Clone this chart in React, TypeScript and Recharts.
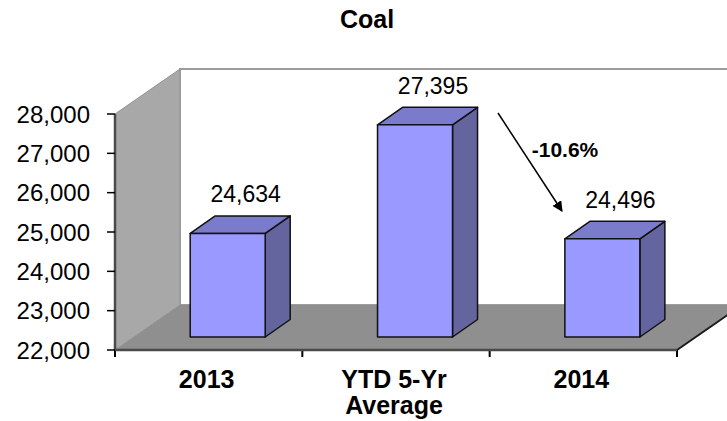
import { Bar, BarChart, ReferenceArea, XAxis, YAxis } from 'recharts';

const categories = ['2013', 'YTD 5-Yr\nAverage', '2014'];
const coalTons = [24634, 27395, 24496];
const yTicks = [22000, 23000, 24000, 25000, 26000, 27000, 28000];

const data = categories.map((category, i) => ({ category, coal: coalTons[i] }));

// change of 2014 against the five-year average
const change = ((coalTons[2] - coalTons[1]) / coalTons[1]) * 100;
const changeLabel = `${change.toFixed(1)}%`;

const FONT = '"Liberation Sans", Arial, Helvetica, sans-serif';

// 3D offsets: full depth of the floor, where a box's front face sits, and box thickness
const DEPTH = { dx: 65, dy: -45 };
const FRONT = { dx: 19, dy: -13 };
const THICK = { dx: 25, dy: -17.5 };

const fmt = (v: number) => v.toLocaleString('en-US');

function Walls(props: any) {
  const { x, y, width: w, height: h } = props;
  const bx = x + DEPTH.dx;
  const by = y + DEPTH.dy;
  const bottom = y + h;
  const bounds = categories.map((_, i) => x + (w * (i + 1)) / categories.length);
  return (
    <g>
      <rect x={bx} y={by} width={w} height={h} fill="#ffffff" stroke="#9c9c9c" strokeWidth={2} />
      <polygon
        points={`${x},${y} ${bx},${by} ${bx},${by + h} ${x},${bottom}`}
        fill="#a8a8a8"
        stroke="#939393"
        strokeWidth={1}
      />
      <polygon
        points={`${x},${bottom} ${x + w},${bottom} ${bx + w},${by + h} ${bx},${by + h}`}
        fill="#8f8f8f"
      />
      <line x1={x + w} y1={bottom} x2={bx + w} y2={by + h} stroke="#1a1a1a" strokeWidth={2} />
      {[x, ...bounds].map((t) => (
        <line key={t} x1={t} x2={t} y1={bottom} y2={bottom + 7} stroke="#000" strokeWidth={2} />
      ))}
      <defs>
        <marker id="head" viewBox="0 0 10 10" refX="9" refY="5" markerWidth="7" markerHeight="7" orient="auto">
          <path d="M0,0 L10,5 L0,10 z" fill="#000" />
        </marker>
      </defs>
      <line x1={498} y1={113} x2={562} y2={211} stroke="#000" strokeWidth={1.5} markerEnd="url(#head)" />
      <text x={565} y={157} textAnchor="middle" fontFamily={FONT} fontSize={21} fontWeight="bold" fill="#000">
        {changeLabel}
      </text>
    </g>
  );
}

function Box(props: any) {
  const { x, y, width, height, payload } = props;
  const fx = x + FRONT.dx;
  const fy = y + FRONT.dy;
  const rx = fx + width;
  const top = `${fx},${fy} ${rx},${fy} ${rx + THICK.dx},${fy + THICK.dy} ${fx + THICK.dx},${fy + THICK.dy}`;
  const side = `${rx},${fy} ${rx + THICK.dx},${fy + THICK.dy} ${rx + THICK.dx},${fy + height + THICK.dy} ${rx},${fy + height}`;
  return (
    <g>
      <g stroke="#111" strokeWidth={1.5} strokeLinejoin="round">
        <polygon points={side} fill="#64649e" />
        <polygon points={top} fill="#7b7bcc" />
        <rect x={fx} y={fy} width={width} height={height} fill="#9999ff" />
      </g>
      <text
        x={fx + width / 2 + 18}
        y={fy - 31}
        textAnchor="middle"
        fontFamily={FONT}
        fontSize={23}
        fill="#000"
      >
        {fmt(payload.coal)}
      </text>
    </g>
  );
}

function CategoryTick(props: any) {
  const { x, y, payload } = props;
  const lines = String(payload.value).split('\n');
  return (
    <text textAnchor="middle" fontFamily={FONT} fontSize={25} fontWeight="bold" fill="#000">
      {lines.map((line, i) => (
        <tspan key={line} x={x - 2} y={y + 38 + i * 26}>
          {line}
        </tspan>
      ))}
    </text>
  );
}

export default function App() {
  return (
    <div style={{ position: 'absolute', left: 0, top: 0, width: 727, height: 421, background: '#fff' }}>
      <div
        style={{
          position: 'absolute',
          left: 0,
          top: 5,
          width: 734,
          textAlign: 'center',
          fontFamily: FONT,
          fontWeight: 'bold',
          fontSize: 25,
          lineHeight: '28px',
        }}
      >
        Coal
      </div>
      <BarChart
        width={727}
        height={421}
        data={data}
        margin={{ top: 114, right: 50, bottom: 11, left: 15 }}
        barCategoryGap="30%"
      >
        <ReferenceArea y1={22000} y2={28000} shape={Walls} ifOverflow="visible" />
        <XAxis
          dataKey="category"
          height={60}
          interval={0}
          tickSize={0}
          tickMargin={0}
          tickLine={false}
          axisLine={{ stroke: '#4a4a4a', strokeWidth: 2.5 }}
          tick={<CategoryTick />}
        />
        <YAxis
          width={100}
          domain={[22000, 28000]}
          ticks={yTicks}
          interval={0}
          tickFormatter={fmt}
          tickSize={8}
          tickMargin={17}
          tickLine={{ stroke: '#000', strokeWidth: 1.5 }}
          axisLine={{ stroke: '#4a4a4a', strokeWidth: 2.5 }}
          tick={{ fill: '#000', fontSize: 24, fontFamily: FONT }}
        />
        <Bar dataKey="coal" shape={Box} isAnimationActive={false} />
      </BarChart>
    </div>
  );
}
